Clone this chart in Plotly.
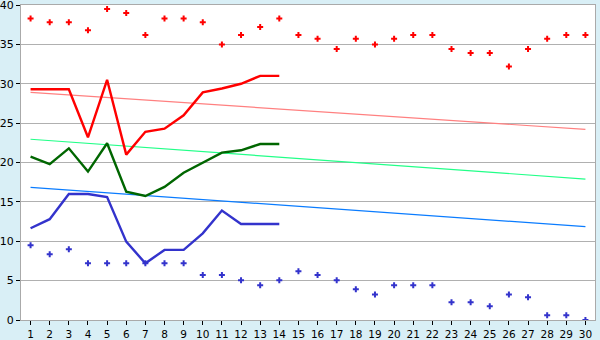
import plotly.graph_objects as go

categories = list(range(1, 31))
line_cats = list(range(1, 15))

red_markers = [38.3, 37.8, 37.8, 36.8, 39.5, 39.0, 36.2, 38.3, 38.3, 37.8,
               35.0, 36.2, 37.2, 38.3, 36.2, 35.7, 34.4, 35.7, 35.0, 35.7,
               36.2, 36.2, 34.4, 33.9, 33.9, 32.2, 34.4, 35.7, 36.2, 36.2]
blue_markers = [9.5, 8.35, 9.0, 7.2, 7.2, 7.2, 7.2, 7.2, 7.2, 5.7,
                5.7, 5.05, 4.4, 5.05, 6.2, 5.7, 5.05, 3.9, 3.25, 4.4,
                4.4, 4.4, 2.25, 2.25, 1.75, 3.25, 2.9, 0.6, 0.6, 0.0]

red_line = [29.3, 29.3, 29.3, 23.2, 30.5, 21.0, 23.9, 24.3, 26.0, 28.9, 29.4, 30.0, 31.0, 31.0]
green_line = [20.75, 19.8, 21.8, 18.85, 22.45, 16.3, 15.75, 16.9, 18.7, 20.0, 21.25, 21.55, 22.35, 22.35]
blue_line = [11.65, 12.8, 16.0, 16.0, 15.6, 9.95, 7.2, 8.9, 8.9, 11.0, 13.9, 12.2, 12.2, 12.2]

trend_x = [1, 30]
red_trend = [28.9, 24.2]
green_trend = [22.95, 17.9]
blue_trend = [16.85, 11.85]

y_ticks = [0, 5, 10, 15, 20, 25, 30, 35, 40]

fig = go.Figure()

fig.add_trace(go.Scatter(x=trend_x, y=red_trend, mode="lines",
                         line=dict(color="#ff8080", width=1.2)))
fig.add_trace(go.Scatter(x=trend_x, y=green_trend, mode="lines",
                         line=dict(color="#22ff88", width=1.2)))
fig.add_trace(go.Scatter(x=trend_x, y=blue_trend, mode="lines",
                         line=dict(color="#0a7cff", width=1.2)))

fig.add_trace(go.Scatter(x=line_cats, y=red_line, mode="lines",
                         line=dict(color="#ff0000", width=2.4)))
fig.add_trace(go.Scatter(x=line_cats, y=green_line, mode="lines",
                         line=dict(color="#006600", width=2.4)))
fig.add_trace(go.Scatter(x=line_cats, y=blue_line, mode="lines",
                         line=dict(color="#3333cc", width=2.4)))

fig.add_trace(go.Scatter(x=categories, y=red_markers, mode="markers",
                         marker=dict(symbol="cross", size=5, color="#ff0000",
                                     line=dict(width=0))))
fig.add_trace(go.Scatter(x=categories, y=blue_markers, mode="markers",
                         marker=dict(symbol="cross", size=5, color="#3333cc",
                                     line=dict(width=0))))

fig.update_layout(
    width=600, height=340,
    margin=dict(l=21, r=5, t=5, b=20, autoexpand=False),
    paper_bgcolor="#d9eff6",
    plot_bgcolor="#ffffff",
    showlegend=False,
    font=dict(family="DejaVu Sans", size=11, color="#000000"),
)
fig.update_xaxes(
    range=[0.5, 30.5], tickmode="array", tickvals=categories,
    ticktext=[str(c) for c in categories], automargin=False,
    showgrid=False, zeroline=False,
    showline=True, linecolor="#aaaaaa", linewidth=1, mirror=True,
    ticks="outside", ticklen=4, tickcolor="#000000", tickfont=dict(size=10.5),
    ticklabelstandoff=0, ticklabeloverflow="allow",
)
fig.update_yaxes(
    range=[0, 40], tickmode="array", tickvals=y_ticks, automargin=False,
    showgrid=True, gridcolor="#b0b0b0", gridwidth=1, zeroline=False,
    showline=True, linecolor="#aaaaaa", linewidth=1, mirror=True,
    ticks="outside", ticklen=4, tickcolor="#000000", tickfont=dict(size=11),
    ticklabelstandoff=0, ticklabeloverflow="allow",
)

fig.write_html("out.html")
